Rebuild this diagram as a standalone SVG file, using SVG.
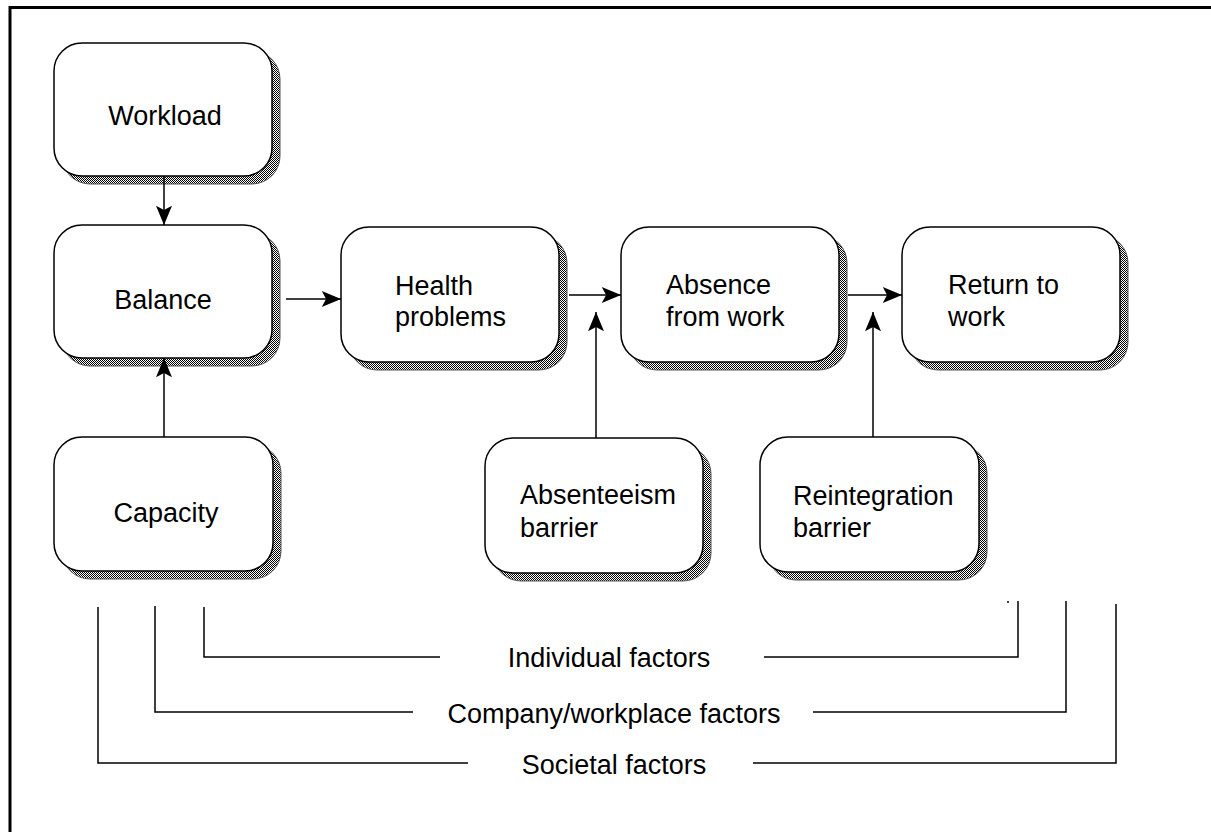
<svg xmlns="http://www.w3.org/2000/svg" width="1211" height="832" viewBox="0 0 1211 832">
  <defs>
    <pattern id="hatch" width="2" height="2" patternUnits="userSpaceOnUse">
      <rect width="2" height="2" fill="#ffffff"/>
      <rect width="1" height="1" fill="#000000"/>
      <rect x="1" y="1" width="1" height="1" fill="#000000"/>
    </pattern>
    <marker id="arrow" markerUnits="userSpaceOnUse" markerWidth="20" markerHeight="16" viewBox="0 0 18 15" refX="18" refY="7.5" orient="auto">
      <path d="M0,0 L18,7.5 L0,15 L4,7.5 Z" fill="#000"/>
    </marker>
    <style>
      .shadow { fill: url(#hatch); stroke: #555; stroke-width: 1; }
      .box { fill: #ffffff; stroke: #000; stroke-width: 1.5; }
      .lbl { font-family: "Liberation Sans", Arial, sans-serif; font-size: 27px; fill: #000; }
      .conn { stroke: #000; stroke-width: 1.5; fill: none; }
      .frame { stroke: #000; stroke-width: 3; fill: none; }
    </style>
  </defs>

  <rect width="1211" height="832" fill="#ffffff"/>
  <path class="frame" d="M10,832 L10,7.5 L1211,7.5"/>

  <g id="workload">
    <rect class="shadow" x="62" y="51" width="218" height="133" rx="28"/>
    <rect class="box" x="54" y="43" width="218" height="133" rx="28"/>
    <text class="lbl" x="165" y="125" text-anchor="middle">Workload</text>
  </g>

  <g id="balance">
    <rect class="shadow" x="62" y="233" width="218" height="133" rx="28"/>
    <rect class="box" x="54" y="225" width="218" height="133" rx="28"/>
    <text class="lbl" x="163" y="309" text-anchor="middle">Balance</text>
  </g>

  <g id="capacity">
    <rect class="shadow" x="62" y="445" width="219" height="134" rx="28"/>
    <rect class="box" x="54" y="437" width="219" height="134" rx="28"/>
    <text class="lbl" x="166" y="522" text-anchor="middle">Capacity</text>
  </g>

  <g id="health">
    <rect class="shadow" x="349" y="235" width="218" height="135" rx="28"/>
    <rect class="box" x="341" y="227" width="218" height="135" rx="28"/>
    <text class="lbl" x="395" y="295">Health</text>
    <text class="lbl" x="395" y="326">problems</text>
  </g>

  <g id="absence">
    <rect class="shadow" x="629" y="235" width="218" height="135" rx="28"/>
    <rect class="box" x="621" y="227" width="218" height="135" rx="28"/>
    <text class="lbl" x="666" y="294">Absence</text>
    <text class="lbl" x="666" y="326">from work</text>
  </g>

  <g id="return">
    <rect class="shadow" x="910" y="235" width="218" height="135" rx="28"/>
    <rect class="box" x="902" y="227" width="218" height="135" rx="28"/>
    <text class="lbl" x="948" y="294">Return to</text>
    <text class="lbl" x="948" y="326">work</text>
  </g>

  <g id="absenteeism">
    <rect class="shadow" x="493" y="446" width="218" height="135" rx="28"/>
    <rect class="box" x="485" y="438" width="218" height="135" rx="28"/>
    <text class="lbl" x="520" y="504">Absenteeism</text>
    <text class="lbl" x="520" y="537">barrier</text>
  </g>

  <g id="reintegration">
    <rect class="shadow" x="768" y="445" width="219" height="135" rx="28"/>
    <rect class="box" x="760" y="437" width="219" height="135" rx="28"/>
    <text class="lbl" x="793" y="505">Reintegration</text>
    <text class="lbl" x="793" y="537">barrier</text>
  </g>

  <g id="connectors">
    <line class="conn" x1="164" y1="176" x2="164" y2="225" marker-end="url(#arrow)"/>
    <line class="conn" x1="164" y1="437" x2="164" y2="358" marker-end="url(#arrow)"/>
    <line class="conn" x1="286" y1="299" x2="341" y2="299" marker-end="url(#arrow)"/>
    <line class="conn" x1="569" y1="295" x2="621" y2="295" marker-end="url(#arrow)"/>
    <line class="conn" x1="848" y1="295" x2="902" y2="295" marker-end="url(#arrow)"/>
    <line class="conn" x1="596" y1="438" x2="596" y2="312" marker-end="url(#arrow)"/>
    <line class="conn" x1="873" y1="437" x2="873" y2="312" marker-end="url(#arrow)"/>

    <polyline class="conn" points="204,607 204,657 440,657"/>
    <polyline class="conn" points="764,657 1018,657 1018,601"/>
    <polyline class="conn" points="155,606 155,712 413,712"/>
    <polyline class="conn" points="813,712 1066,712 1066,601"/>
    <polyline class="conn" points="98,607 98,763 468,763"/>
    <polyline class="conn" points="753,763 1116,763 1116,604"/>
    <line class="conn" x1="1007" y1="602" x2="1009" y2="602"/>
  </g>

  <g id="factor-labels">
    <text class="lbl" x="609" y="667" text-anchor="middle">Individual factors</text>
    <text class="lbl" x="614" y="723" text-anchor="middle">Company/workplace factors</text>
    <text class="lbl" x="614" y="774" text-anchor="middle">Societal factors</text>
  </g>
</svg>
